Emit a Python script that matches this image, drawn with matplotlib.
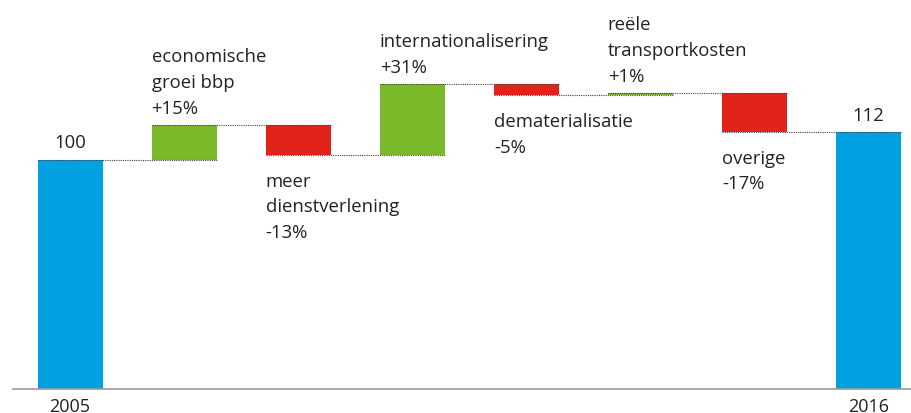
import matplotlib
matplotlib.use("Agg")
import matplotlib.pyplot as plt

# Waterfall data: start value, changes, end value
years = ["2005", "2016"]
start_value = 100
end_value = 112
step_labels = ["economische\ngroei bbp", "meer\ndienstverlening", "internationalisering",
               "dematerialisatie", "reële\ntransportkosten", "overige"]
step_changes = [15, -13, 31, -5, 1, -17]

BLUE = "#00A0E1"
GREEN = "#7AB929"
RED = "#E2231A"

plt.rcParams["font.family"] = ["Open Sans", "DejaVu Sans"]

fig = plt.figure(figsize=(9.12, 4.14), dpi=100)
ax = fig.add_axes([13 / 912, 24 / 414, 899 / 912, 390 / 414])

width = 0.57
n = len(step_changes) + 2
fs = 13.3
ls = 1.55

# start bar
ax.bar(0, start_value, width=width, color=BLUE)
ax.annotate(str(start_value), (0, start_value), xytext=(0, 6), textcoords="offset points",
            ha="center", va="bottom", fontsize=fs, color="#222222")

level = start_value
levels = [level]
for i, (lab, ch) in enumerate(zip(step_labels, step_changes), start=1):
    bottom = level if ch > 0 else level + ch
    ax.bar(i, abs(ch), bottom=bottom, width=width, color=GREEN if ch > 0 else RED)
    sign = "+" if ch > 0 else ""
    text = f"{lab}\n{sign}{ch}%"
    xl = i - width / 2
    if ch > 0:
        ax.annotate(text, (xl, level + ch), xytext=(0, 6), textcoords="offset points",
                    ha="left", va="bottom", fontsize=fs, color="#222222", linespacing=ls)
    else:
        ax.annotate(text, (xl, level + ch), xytext=(0, -12), textcoords="offset points",
                    ha="left", va="top", fontsize=fs, color="#222222", linespacing=ls)
    level += ch
    levels.append(level)

# end bar
ax.bar(n - 1, end_value, width=width, color=BLUE)
ax.annotate(str(end_value), (n - 1, end_value), xytext=(0, 6), textcoords="offset points",
            ha="center", va="bottom", fontsize=fs, color="#222222")

# dotted connectors between consecutive bars
for i, lv in enumerate(levels):
    ax.plot([i - width / 2, i + 1 + width / 2], [lv, lv], color="#444444",
            linestyle=(0, (1, 1)), linewidth=0.8, zorder=3)

ax.set_xlim(-0.5, (912 - 70.5) / 114)
ax.set_ylim(0, 170)
for s in ["top", "right", "left"]:
    ax.spines[s].set_visible(False)
ax.spines["bottom"].set_color("#999999")
ax.spines["bottom"].set_linewidth(1.2)
ax.set_yticks([])
ax.set_xticks([0, n - 1])
ax.set_xticklabels(years, fontsize=13, color="#222222",
                   family=["Liberation Sans Narrow", "Open Sans", "DejaVu Sans"])
ax.tick_params(axis="x", length=0, pad=6)

fig.savefig("out.png", dpi=100)
